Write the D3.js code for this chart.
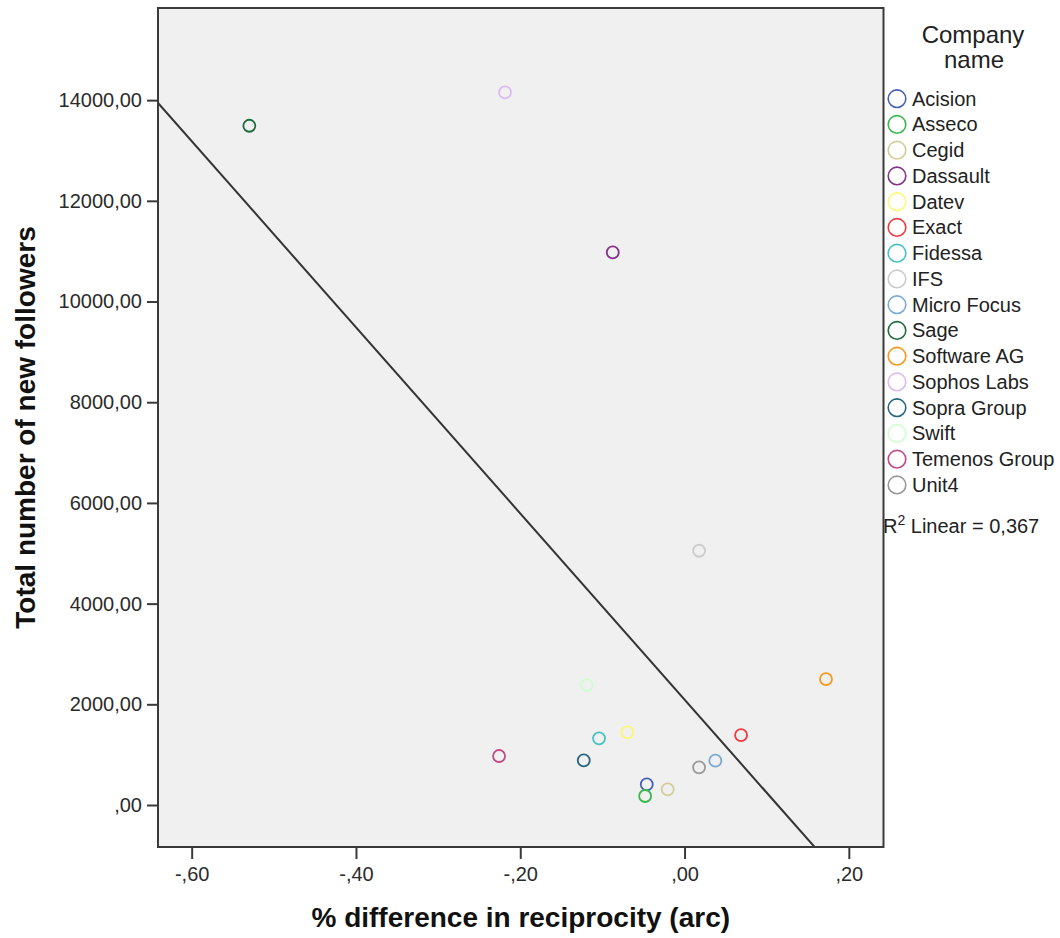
<!DOCTYPE html>
<html>
<head>
<meta charset="utf-8">
<script src="https://cdnjs.cloudflare.com/ajax/libs/d3/7.8.5/d3.min.js"></script>
<style>
  body { margin: 0; background: #fff; }
  text { font-family: "Liberation Sans", Arial, sans-serif; }
</style>
</head>
<body>
<div id="app"></div>
<script>
// companies, in legend order
const companies = ["Acision", "Asseco", "Cegid", "Dassault", "Datev", "Exact", "Fidessa", "IFS",
  "Micro Focus", "Sage", "Software AG", "Sophos Labs", "Sopra Group", "Swift", "Temenos Group", "Unit4"];
const colors = ["#4660b8", "#3ab84e", "#d3ce97", "#85338a", "#fbf873", "#ef3a40", "#48c2c5", "#cccccc",
  "#7aaad5", "#1f6b3e", "#f8981d", "#ddbaf1", "#26667e", "#ccffcc", "#c04a86", "#999999"];
// % difference in reciprocity (arc)
const reciprocity = [-0.046, -0.048, -0.0205, -0.0874, -0.0696, 0.0688, -0.1041, 0.0177,
  0.0375, -0.5298, 0.1722, -0.2185, -0.1227, -0.119, -0.2258, 0.0177];
// total number of new followers
const followers = [411, 179, 312, 10977, 1444, 1390, 1325, 5050,
  880, 13491, 2502, 14154, 888, 2383, 973, 749];
const xTicks = [-0.6, -0.4, -0.2, 0, 0.2];
const yTicks = [0, 2000, 4000, 6000, 8000, 10000, 12000, 14000];
const r2Label = "0,367";

const w = 1060, h = 938;
const pLeft = 158, pRight = 883.5, pTop = 8, pBottom = 847;

const svg = d3.select("#app")
  .append("svg")
  .attr("width", w)
  .attr("height", h)
  .style("background-color", "#fff");

const data = companies.map((c, i) => ({name: c, color: colors[i], x: reciprocity[i], y: followers[i]}));

const xScale = d3.scaleLinear()
  .domain([-0.641, 0.2422])
  .range([pLeft, pRight]);

const yScale = d3.scaleLinear()
  .domain([-834, 15830])
  .range([pBottom, pTop]);

// spss style numbers: comma decimal, no leading zero
const fmt = d => d.toFixed(2).replace(".", ",").replace(/^(-?)0,/, "$1,");

svg.append("rect")
  .attr("x", pLeft)
  .attr("y", pTop)
  .attr("width", pRight - pLeft)
  .attr("height", pBottom - pTop)
  .attr("fill", "#f0f0f0");

svg.append("clipPath")
  .attr("id", "plotclip")
  .append("rect")
  .attr("x", pLeft)
  .attr("y", pTop)
  .attr("width", pRight - pLeft)
  .attr("height", pBottom - pTop);

// least squares fit line
const mx = d3.mean(data, d => d.x), my = d3.mean(data, d => d.y);
const sxy = d3.sum(data, d => (d.x - mx) * (d.y - my));
const sxx = d3.sum(data, d => (d.x - mx) * (d.x - mx));
const slope = sxy / sxx, intercept = my - slope * mx;
const xd = xScale.domain();

svg.append("line")
  .attr("clip-path", "url(#plotclip)")
  .attr("x1", xScale(xd[0]))
  .attr("y1", yScale(intercept + slope * xd[0]))
  .attr("x2", xScale(xd[1]))
  .attr("y2", yScale(intercept + slope * xd[1]))
  .attr("stroke", "#333")
  .attr("stroke-width", 2);

svg.selectAll(".dot")
  .data(data)
  .enter()
  .append("circle")
  .attr("class", "dot")
  .attr("cx", d => xScale(d.x))
  .attr("cy", d => yScale(d.y))
  .attr("r", 6)
  .attr("fill", "none")
  .attr("stroke", d => d.color)
  .attr("stroke-width", 1.8);

// frame
svg.append("rect")
  .attr("x", pLeft)
  .attr("y", pTop)
  .attr("width", pRight - pLeft)
  .attr("height", pBottom - pTop)
  .attr("fill", "none")
  .attr("stroke", "#3a3a3a")
  .attr("stroke-width", 2);

const xAxis = d3.axisBottom(xScale)
  .tickValues(xTicks)
  .tickFormat(fmt)
  .tickSize(12)
  .tickPadding(8);
const yAxis = d3.axisLeft(yScale)
  .tickValues(yTicks)
  .tickFormat(fmt)
  .tickSize(11)
  .tickPadding(5);

const gx = svg.append("g")
  .attr("id", "x-axis")
  .attr("transform", "translate(0," + pBottom + ")")
  .call(xAxis);
const gy = svg.append("g")
  .attr("id", "y-axis")
  .attr("transform", "translate(" + pLeft + ",0)")
  .call(yAxis);

[gx, gy].forEach(g => {
  g.select(".domain").remove();
  g.selectAll(".tick line").attr("stroke", "#3a3a3a").attr("stroke-width", 2);
  g.selectAll(".tick text")
    .attr("fill", "#2b2b2b")
    .style("font-size", "20px")
    .style("font-family", "'Liberation Sans', Arial, sans-serif");
});

svg.append("text")
  .attr("x", (pLeft + pRight) / 2)
  .attr("y", 927)
  .style("text-anchor", "middle")
  .style("font-size", "28px")
  .style("font-weight", "bold")
  .attr("fill", "#111")
  .text("% difference in reciprocity (arc)");

svg.append("text")
  .attr("transform", "rotate(-90)")
  .attr("x", 0 - (pTop + pBottom) / 2)
  .attr("y", 35)
  .style("text-anchor", "middle")
  .style("font-size", "28px")
  .style("font-weight", "bold")
  .attr("fill", "#111")
  .text("Total number of new followers");

// legend
const legend = svg.append("g")
  .attr("id", "legend");

legend.append("text")
  .attr("x", 973)
  .attr("y", 43)
  .style("text-anchor", "middle")
  .style("font-size", "24px")
  .attr("fill", "#222")
  .text("Company");
legend.append("text")
  .attr("x", 974)
  .attr("y", 68)
  .style("text-anchor", "middle")
  .style("font-size", "24px")
  .attr("fill", "#222")
  .text("name");

const item = legend.selectAll(".item")
  .data(data)
  .enter()
  .append("g")
  .attr("class", "item")
  .attr("transform", (d, i) => "translate(897," + (98.7 + i * 25.75) + ")");

item.append("circle")
  .attr("r", 8.8)
  .attr("fill", "none")
  .attr("stroke", d => d.color)
  .attr("stroke-width", 1.6);

item.append("text")
  .attr("x", 15)
  .attr("y", 7)
  .style("font-size", "20px")
  .attr("fill", "#222")
  .text(d => d.name);

const r2 = legend.append("text")
  .attr("x", 883)
  .attr("y", 533)
  .style("font-size", "20px")
  .attr("fill", "#222");
r2.append("tspan").text("R");
r2.append("tspan").attr("dy", -8).style("font-size", "14px").text("2");
r2.append("tspan").attr("dy", 8).text(" Linear = " + r2Label);
</script>
</body>
</html>
